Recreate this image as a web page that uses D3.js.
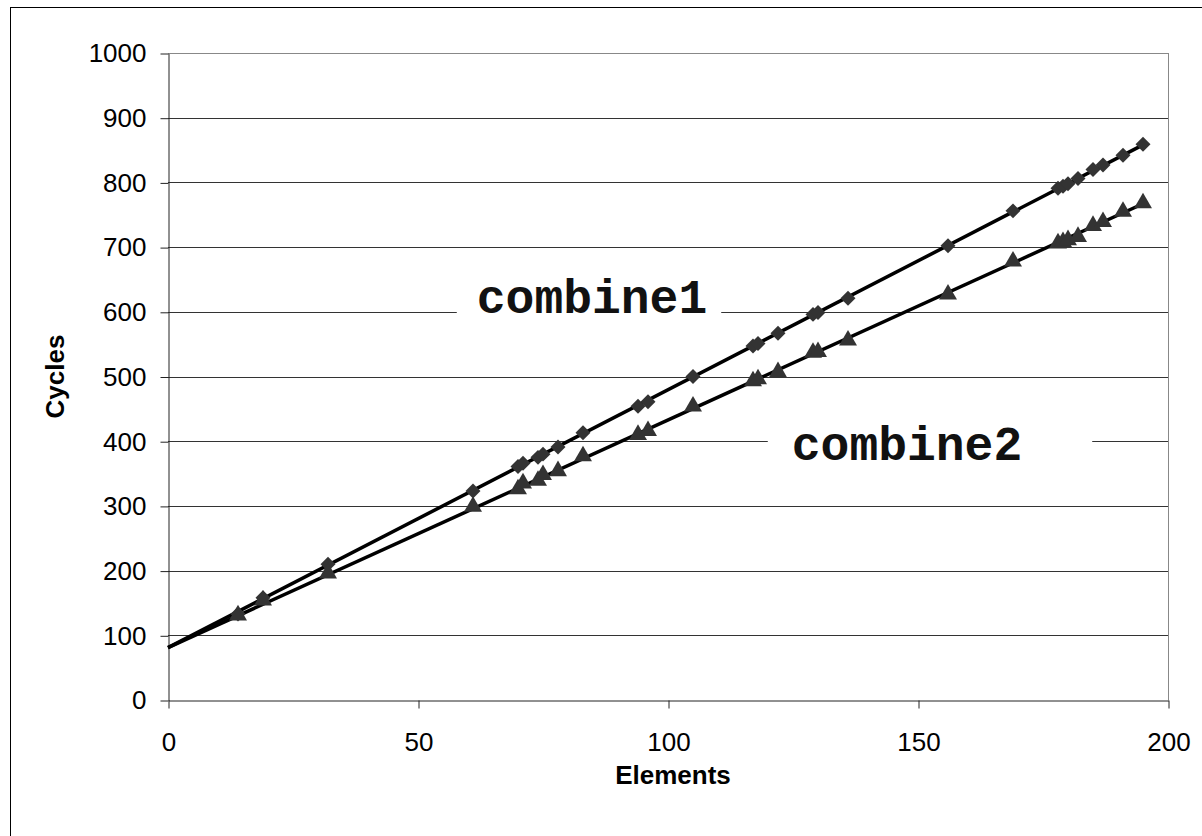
<!DOCTYPE html>
<html><head><meta charset="utf-8">
<script src="https://cdn.jsdelivr.net/npm/d3@7"></script>
<style>body{margin:0;background:#fff}svg{display:block}</style>
</head><body>
<svg id="c" width="1202" height="836"></svg>
<script>
const elements = [14,19,32,61,70,71,74,75,78,83,94,96,105,117,118,122,129,130,136,156,169,178,179,180,182,185,187,191,195];
const combine1 = [133,158,210,323,361,366,375,380,391,413,454,461,500,547,551,567,596,599,621,702,756,791,794,798,806,820,827,842,859];
const combine2 = [131,154,196,299,326,335,339,348,354,377,410,416,454,493,496,507,537,538,556,627,678,706,708,711,716,733,739,755,768];
const trend1 = [[0,81],[195,858]];
const trend2 = [[0,81],[195,767]];
const xTicks = [0,50,100,150,200];
const yTicks = [0,100,200,300,400,500,600,700,800,900,1000];
const seriesLabels = ["combine1","combine2"];

const svg = d3.select("#c");
svg.append("rect").attr("x",10.5).attr("y",7.5).attr("width",1200).attr("height",840)
  .attr("fill","#fff").attr("stroke","#000");

const L=168,R=1168,T=53,B=700;
const x = d3.scaleLinear().domain([0,200]).range([L,R]);
const y = d3.scaleLinear().domain([0,1000]).range([B,T]);

// gridlines
svg.append("g").selectAll("line").data(yTicks.filter(d=>d>0)).join("line")
  .attr("x1",L).attr("x2",R).attr("y1",d=>Math.round(y(d))+0.5).attr("y2",d=>Math.round(y(d))+0.5)
  .attr("stroke",d=>d===1000?"#888":"#333").attr("stroke-width",1);
svg.append("line").attr("x1",R+0.5).attr("x2",R+0.5).attr("y1",T).attr("y2",B).attr("stroke","#888");

// axes
const fontAx = "Arial, 'Liberation Sans', sans-serif";
const fmt = d3.format("d");
const yAxis = svg.append("g").attr("transform",`translate(${L+0.5},0.5)`)
  .call(d3.axisLeft(y).tickValues(yTicks).tickFormat(fmt).tickSize(8).tickPadding(14).tickSizeOuter(0));
const xAxis = svg.append("g").attr("transform",`translate(0.5,${B+0.5})`)
  .call(d3.axisBottom(x).tickValues(xTicks).tickFormat(fmt).tickSize(8).tickPadding(24).tickSizeOuter(0));
[yAxis,xAxis].forEach(a=>{
  a.attr("font-size",null).attr("font-family",null);
  a.selectAll("path,line").attr("stroke","#222");
  a.selectAll("text").attr("font-family",fontAx).attr("font-size",26).attr("fill","#000");
});

svg.append("text").attr("transform",`translate(64,${(T+B)/2}) rotate(-90)`)
  .attr("text-anchor","middle").attr("font-family",fontAx).attr("font-weight","bold")
  .attr("font-size",26).text("Cycles");
svg.append("text").attr("x",673).attr("y",784)
  .attr("text-anchor","middle").attr("font-family",fontAx).attr("font-weight","bold")
  .attr("font-size",26).text("Elements");

// series labels with white background
const labelPos = [[592,313],[907,460]];
const labelPad = [[20,14],[24,70]];
seriesLabels.forEach((t,i)=>{
  const g = svg.append("g");
  const bg = g.append("rect").attr("fill","#fff");
  const tx = g.append("text").attr("x",labelPos[i][0]).attr("y",labelPos[i][1])
    .attr("text-anchor","middle").attr("font-family","'Courier New','Liberation Mono',monospace")
    .attr("font-weight","bold").attr("font-size",48).attr("fill","#111").text(t);
  const bb = tx.node().getBBox();
  bg.attr("x",bb.x-labelPad[i][0]).attr("y",bb.y-4)
    .attr("width",bb.width+labelPad[i][0]+labelPad[i][1]).attr("height",bb.height+8);
});

// trend lines
const line = d3.line().x(d=>x(d[0])).y(d=>y(d[1]));
[trend1,trend2].forEach(t=>{
  svg.append("path").attr("d",line(t)).attr("fill","none").attr("stroke","#000").attr("stroke-width",3.5);
});

// markers
const diamond = d3.symbol().type(d3.symbolSquare).size(112)();
svg.append("g").selectAll("path").data(elements.map((e,i)=>[e,combine1[i]])).join("path")
  .attr("d",diamond).attr("fill","#333")
  .attr("transform",d=>`translate(${x(d[0])},${y(d[1])}) rotate(45)`);
const tri = d3.symbol().type(d3.symbolTriangle).size(140)();
svg.append("g").selectAll("path").data(elements.map((e,i)=>[e,combine2[i]])).join("path")
  .attr("d",tri).attr("fill","#333")
  .attr("transform",d=>`translate(${x(d[0])},${y(d[1])})`);
</script>
</body></html>
